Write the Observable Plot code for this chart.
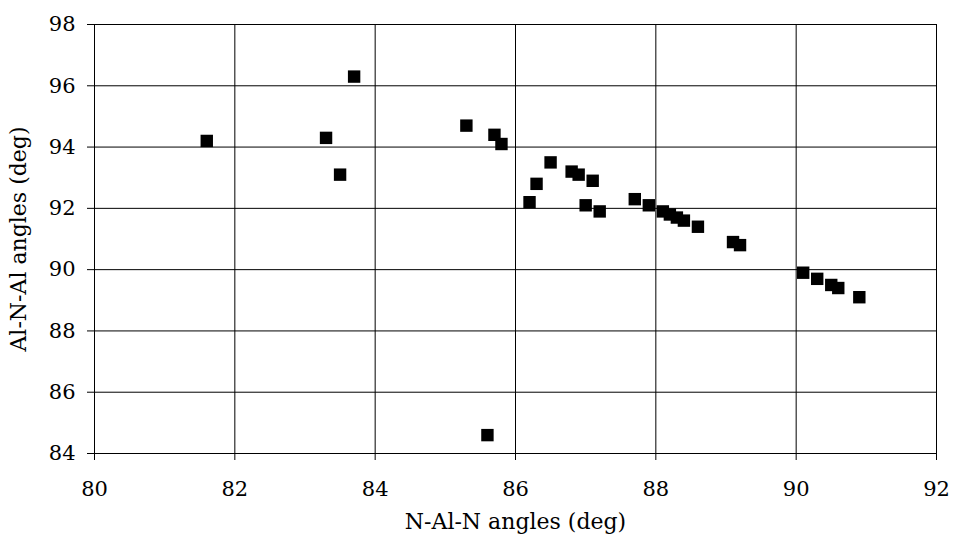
<!DOCTYPE html>
<html>
<head>
<meta charset="utf-8">
<script src="https://cdn.jsdelivr.net/npm/d3@7"></script>
<script src="https://cdn.jsdelivr.net/npm/@observablehq/plot@0.6"></script>
<style>
  html, body { margin: 0; padding: 0; background: #fff; }
  #chart svg { display: block; }
</style>
</head>
<body>
<div id="chart"></div>
<script>
const nalnAngles = [81.6, 83.3, 83.5, 83.7, 85.3, 85.7, 85.8, 85.6, 86.2, 86.3, 86.5, 86.8, 86.9, 87.1, 87.0, 87.2, 87.7, 87.9, 88.1, 88.2, 88.3, 88.4, 88.6, 89.1, 89.2, 90.1, 90.3, 90.5, 90.6, 90.9];
const alnalAngles = [94.2, 94.3, 93.1, 96.3, 94.7, 94.4, 94.1, 84.6, 92.2, 92.8, 93.5, 93.2, 93.1, 92.9, 92.1, 91.9, 92.3, 92.1, 91.9, 91.8, 91.7, 91.6, 91.4, 90.9, 90.8, 89.9, 89.7, 89.5, 89.4, 89.1];
const xTicks = [80, 82, 84, 86, 88, 90, 92];
const yTicks = [84, 86, 88, 90, 92, 94, 96, 98];

const data = nalnAngles.map((x, i) => ({x, y: alnalAngles[i]}));

const chart = Plot.plot({
  width: 953,
  height: 540,
  marginLeft: 94,
  marginRight: 17,
  marginTop: 24,
  marginBottom: 87,
  style: {fontFamily: "'DejaVu Serif', serif", fontSize: "21px", color: "#000", background: "#fff"},
  x: {domain: [80, 92], ticks: xTicks, label: null},
  y: {domain: [84, 98], ticks: yTicks, label: null},
  marks: [
    Plot.gridX(xTicks, {stroke: "#000", strokeOpacity: 1, strokeWidth: 1}),
    Plot.gridY(yTicks, {stroke: "#000", strokeOpacity: 1, strokeWidth: 1}),
    Plot.frame({stroke: "#000", strokeWidth: 1}),
    Plot.axisX(xTicks, {tickSize: 7, tickPadding: 21, fontSize: 21, stroke: "#000", label: null}),
    Plot.axisY(yTicks, {tickSize: 7, tickPadding: 12, fontSize: 21, stroke: "#000", label: null}),
    Plot.dot(data, {x: "x", y: "y", symbol: "square", r: 7, fill: "#000", stroke: "none"}),
    Plot.text(["N-Al-N angles (deg)"], {frameAnchor: "bottom", dy: 75, fontSize: 22, fill: "#000"}),
    Plot.text(["Al-N-Al angles (deg)"], {frameAnchor: "left", textAnchor: "middle", dx: -76, rotate: -90, fontSize: 22, fill: "#000"})
  ]
});
document.getElementById("chart").appendChild(chart);
</script>
</body>
</html>
